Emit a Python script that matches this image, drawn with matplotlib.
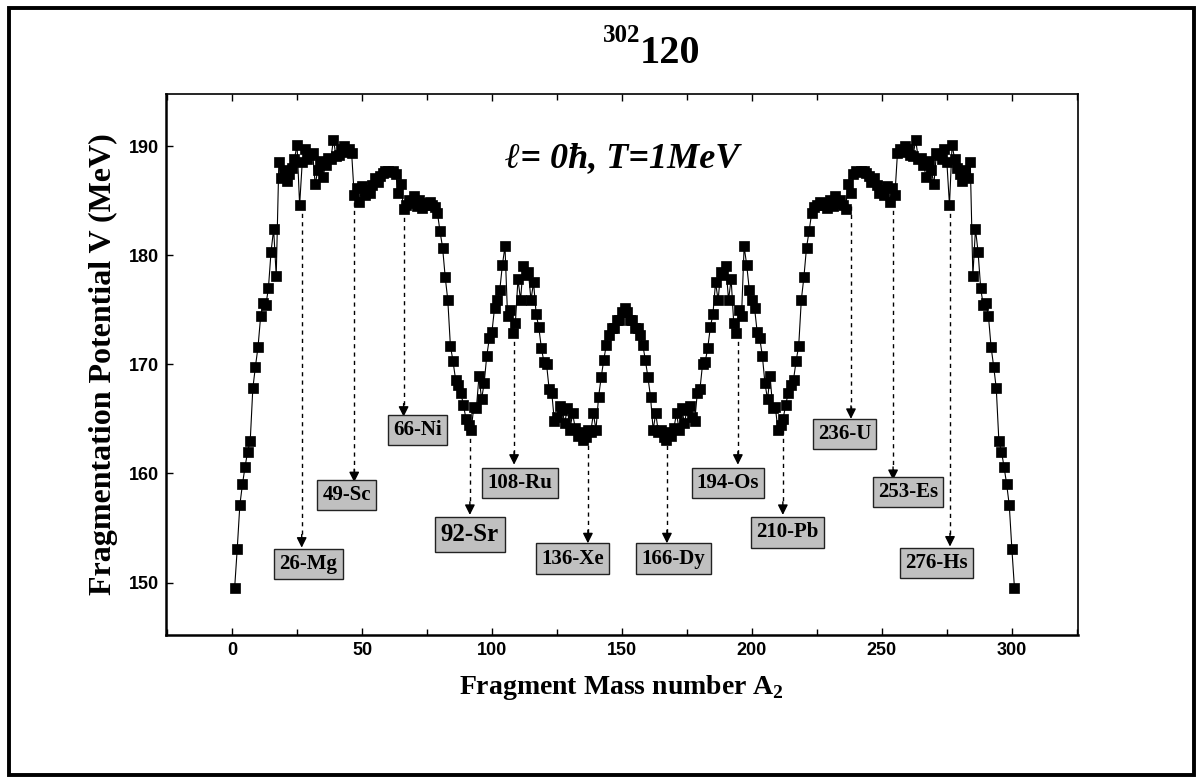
import numpy as np
import matplotlib
matplotlib.use('Agg')
import matplotlib.pyplot as plt
from matplotlib.patches import Rectangle

# ─── Data: fragmentation potential, A2 = 1..151 (mirror for the rest) ──
v_half = [
    149.5, 153.1, 157.1, 159.0, 160.6, 162.0, 163.0, 167.8, 169.8, 171.6,
    174.4, 175.6, 175.4, 177.0, 180.3, 182.4, 178.1, 188.5, 187.1, 187.8,
    186.8, 187.4, 188.0, 188.8, 190.1, 184.6, 188.5, 189.7, 188.8, 189.2,
    189.4, 186.5, 187.8, 188.6, 187.2, 188.3, 188.9, 188.8, 190.6, 189.1,
    189.2, 189.7, 190.0, 189.5, 189.7, 189.4, 185.5, 186.2, 184.9, 186.3,
    185.5, 186.0, 185.7, 186.4, 187.1, 186.7, 187.3, 187.5, 187.7, 187.7,
    187.6, 187.7, 187.4, 185.7, 186.5, 184.2, 184.6, 185.1, 184.8, 185.4,
    184.5, 185.1, 184.3, 184.8, 184.6, 184.9, 184.6, 184.4, 183.9, 182.2,
    180.7, 178.0, 175.9, 171.7, 170.3, 168.6, 168.1, 167.4, 166.3, 165.0,
    164.4, 164.0, 166.1, 166.0, 168.9, 166.8, 168.3, 170.8, 172.4, 173.0,
    175.2, 175.9, 176.8, 179.1, 180.8, 174.4, 175.0, 172.9, 173.8, 177.8,
    175.9, 179.0, 178.2, 178.5, 175.9, 177.5, 174.6, 173.4, 171.5, 170.2,
    170.0, 167.7, 167.4, 164.8, 165.2, 166.2, 165.8, 164.6, 166.0, 164.0,
    165.5, 164.2, 163.4, 163.8, 163.1, 163.3, 164.0, 163.8, 165.5, 164.0,
    167.0, 168.8, 170.4, 171.8, 172.7, 173.3, 173.3, 174.1, 174.1, 174.8,
    175.2,
]
a2 = np.arange(1, 302)
v = np.array(v_half + v_half[-2::-1])

# labelled fragments: name, arrow x, arrow start V, arrow tip V, box x, box y, font size
frag_names = ['26-Mg', '49-Sc', '66-Ni', '92-Sr', '108-Ru', '136-Xe',
              '166-Dy', '194-Os', '210-Pb', '236-U', '253-Es', '276-Hs']
arrow_x = [26.8, 47.0, 66.0, 91.5, 108.5, 136.9, 167.3, 194.6, 211.9, 238.1, 254.3, 276.2]
arrow_top = [184.6, 184.9, 184.2, 164.0, 172.9, 163.3, 163.3, 172.9, 164.0, 184.5, 184.9, 184.6]
arrow_tip = [153.2, 159.2, 165.2, 156.2, 160.8, 153.6, 153.6, 160.8, 156.2, 165.0, 159.4, 153.3]
box_x = [29.4, 44.2, 71.3, 91.5, 110.8, 131.0, 169.8, 190.8, 213.7, 235.6, 260.0, 270.9]
box_y = [151.7, 158.0, 164.0, 154.4, 159.1, 152.2, 152.2, 159.1, 154.6, 163.6, 158.3, 151.8]
box_fs = [15, 15, 15, 18, 15, 15, 15, 15, 15, 15, 15, 15]

plt.rcParams.update({
    'mathtext.fontset': 'custom',
    'mathtext.rm': 'Liberation Serif:bold',
    'mathtext.bf': 'Liberation Serif:bold',
})

fig = plt.figure(figsize=(12.03, 7.81), dpi=100, facecolor='white')
ax = fig.add_axes([0.138, 0.187, 0.758, 0.693])

ax.plot(a2, v, '-', color='black', lw=0.8, zorder=2)
ax.plot(a2, v, 's', color='black', ms=7.8, mec='black', mew=0.5, zorder=3)

# dashed arrows + grey boxes
for name, ax_, top, tip, bx, by, fs in zip(frag_names, arrow_x, arrow_top, arrow_tip,
                                           box_x, box_y, box_fs):
    ax.plot([ax_, ax_], [top, tip + 0.8], ls=(0, (3, 3)), color='black', lw=1.0, zorder=1)
    ax.annotate('', xy=(ax_, tip), xytext=(ax_, tip + 1.2),
                arrowprops=dict(arrowstyle='-|>', color='black', lw=1.0,
                                mutation_scale=15, shrinkA=0, shrinkB=0),
                zorder=1)
    ax.text(bx, by, name, ha='center', va='center', fontsize=fs,
            fontweight='bold', family='Liberation Serif', zorder=4,
            bbox=dict(boxstyle='square,pad=0.25', facecolor='#c0c0c0',
                      edgecolor='#222222', linewidth=1.0))

ax.set_xlim(-25.4, 325.4)
ax.set_ylim(145.2, 194.8)
ax.set_xticks([0, 50, 100, 150, 200, 250, 300])
ax.set_xticks(np.arange(-25, 326, 25), minor=True)
ax.set_yticks([150, 160, 170, 180, 190])
ax.tick_params(axis='both', which='both', direction='in', top=True, right=False,
               labelsize=13, pad=5)
ax.tick_params(axis='both', which='major', length=5, width=1)
ax.tick_params(axis='x', which='minor', length=4, width=1)
for lab in ax.get_xticklabels() + ax.get_yticklabels():
    lab.set_fontweight('bold')
    lab.set_family('Liberation Sans')
for side in ['left', 'bottom']:
    ax.spines[side].set_linewidth(1.8)
for side in ['top', 'right']:
    ax.spines[side].set_linewidth(1.2)

ax.set_xlabel('Fragment Mass number A$_{2}$', fontsize=20, fontweight='bold',
              family='Liberation Serif', labelpad=10)
ax.set_ylabel('Fragmentation Potential V (MeV)', fontsize=23, fontweight='bold',
              family='Liberation Serif', labelpad=8)

ax.text(0.5, 0.88, '\u2113= 0\u0127, T=1MeV', transform=ax.transAxes,
        ha='center', va='center', fontsize=26, fontweight='bold', style='italic',
        family=['Liberation Serif', 'DejaVu Serif'])

# title: superscript mass number + Z
fig.text(0.532, 0.919, '120', ha='left', va='baseline', fontsize=29,
         fontweight='bold', family='Liberation Serif')
fig.text(0.532, 0.946, '302', ha='right', va='baseline', fontsize=18,
         fontweight='bold', family='Liberation Serif')

# outer frame
fig.add_artist(Rectangle((0.0075, 0.008), 0.985, 0.982, transform=fig.transFigure,
                         fill=False, edgecolor='black', linewidth=2.8))

fig.savefig('out.png', dpi=100, facecolor='white')
